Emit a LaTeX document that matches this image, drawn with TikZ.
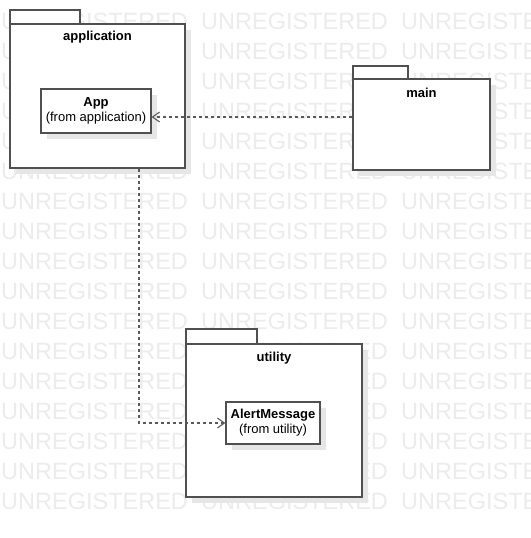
\documentclass[tikz,border=0pt]{standalone}
\usepackage{fontspec}
\setmainfont{Liberation Sans}
\usetikzlibrary{arrows.meta,shadows}
\definecolor{wmgray}{HTML}{ECECEC}
\definecolor{edge}{HTML}{505050}
\definecolor{dashc}{HTML}{5A5A5A}
\definecolor{shad}{HTML}{E6E6E6}
\tikzset{
  wm/.style={font=\fontsize{23.5}{23.5}\selectfont, text=wmgray, inner sep=0pt, anchor=base west},
  shadowed/.style={drop shadow={shadow xshift=6pt, shadow yshift=-6pt, fill=shad, opacity=1}},
  pkg/.style={draw=edge, line width=1.3pt, fill=white, rectangle, inner sep=0pt, shadowed},
  tabbox/.style={draw=edge, line width=1.1pt, fill=white},
  pkgtitle/.style={font=\bfseries\fontsize{13}{15}\selectfont, inner sep=0pt},
  classbox/.style={draw=edge, line width=1.3pt, fill=white, rectangle, inner sep=0pt, align=center,
    font=\fontsize{13}{15}\selectfont, shadowed},
  dep/.style={draw=dashc, line width=1.4pt, dash pattern=on 3pt off 3pt,
    -{Straight Barb[length=7pt,width=10pt,line width=1.1pt]}},
}
\begin{document}
\begin{tikzpicture}[x=1pt,y=-1pt]
\useasboundingbox (0,0) rectangle (530,538);
\clip (0,0) rectangle (530,538);
\fill[white] (0,0) rectangle (530,538);
% watermark
\foreach \r in {0,...,16}{
  \foreach \c in {0,1,2}{
    \node[wm] (wm\r-\c) at (\c*200+1, 29+30*\r) {UNREGISTERED};
  }
}
% application package
\draw[tabbox] (10,10) rectangle (80,24);
\node[pkg, minimum width=175pt, minimum height=144pt] (appPkg) at (97.5,96) {};
\node[pkgtitle] (appTitle) at (97.5,37) {application};
\node[classbox, minimum width=110pt, minimum height=44pt] (app) at (96,111)
  {\textbf{App}\\(from application)};
% main package
\draw[tabbox] (353,66) rectangle (408,79);
\node[pkg, minimum width=137pt, minimum height=91pt] (mainPkg) at (421.5,124.5) {};
\node[pkgtitle] (mainTitle) at (421.5,93) {main};
% utility package
\draw[tabbox] (186,329) rectangle (257,344);
\node[pkg, minimum width=176pt, minimum height=153pt] (utilPkg) at (274,420.5) {};
\node[pkgtitle] (utilTitle) at (274,358) {utility};
\node[classbox, minimum width=94pt, minimum height=42pt] (alert) at (273,423)
  {\textbf{AlertMessage}\\(from utility)};
% dependencies
\draw[dep] (mainPkg.west |- {(0,117)}) -- (app.east |- {(0,117)});
\draw[dep] (appPkg.south -| {(139,0)}) |- (alert.west);
\end{tikzpicture}
\end{document}
